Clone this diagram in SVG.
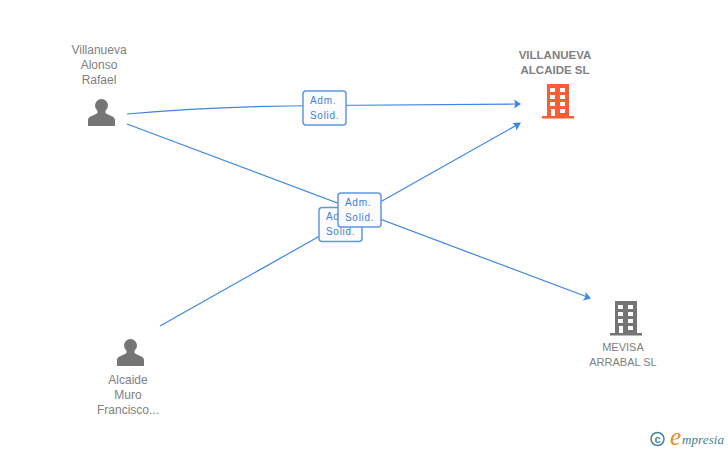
<svg xmlns="http://www.w3.org/2000/svg" width="728" height="450" viewBox="0 0 728 450">
<style>
.e{fill:none;stroke:#3d85e6;stroke-width:1.2}
.a{fill:#3d85e6}
.t{font-family:"Liberation Sans",Arial,sans-serif;font-size:12px;fill:#808080;text-anchor:middle}
.b{font-weight:bold;font-size:11.500px}
.c{font-size:11px}
.box{fill:#fcfcfe;stroke:#5f97e4;stroke-width:1.5}
.l{font-family:"Liberation Sans",Arial,sans-serif;font-size:10px;fill:#3d7fdc;letter-spacing:.7px}
.p{fill:#757575}
.w{fill:#fff}
</style>
<defs>
<g id="person"><circle cx="0" cy="6.500" r="6.500"/><path d="M-4 10 L-4 14 C-8 17 -13.500 17 -13.500 21 L-13.500 27 L13.500 27 L13.500 21 C13.500 17 8 17 4 14 L4 10Z"/></g>
<g id="bld"><path d="M-11 0H11V32H16V34.500H-16V32H-11Z"/>
<g class="w"><rect x="-8" y="4" width="5" height="4"/><rect x="2" y="4" width="5" height="4"/><rect x="-8" y="11" width="5" height="4"/><rect x="2" y="11" width="5" height="4"/><rect x="-8" y="18" width="5" height="4"/><rect x="2" y="18" width="5" height="4"/><rect x="-7" y="25" width="4" height="7"/><rect x="2" y="25" width="5" height="4"/></g></g>
</defs>
<rect width="728" height="450" fill="#fff"/>
<g id="connectors">
<path class="e" d="M127 114 Q220 106 324 105.500 T516 104"/>
<path class="a" d="M521 104 L514 99.500 L515.500 104 L514 108.500Z"/>
<path class="e" d="M127 124 L586 296.500"/>
<path class="a" d="M591 298.500 L585.500 292 L585.500 297 L582.500 300.500Z"/>
<path class="e" d="M160 326 L516 125.500"/>
<path class="a" d="M521 122.500 L512.500 123 L515.500 126 L516.500 130.500Z"/>
</g>
<g id="n1"><use href="#person" class="p" x="101.500" y="99"/><text class="t" x="99" y="54">Villanueva</text><text class="t" x="99" y="69">Alonso</text><text class="t" x="99" y="84">Rafael</text></g>
<g id="n2"><use href="#person" class="p" x="130.500" y="339"/><text class="t" x="128" y="384">Alcaide</text><text class="t" x="128" y="399">Muro</text><text class="t" x="128" y="414">Francisco...</text></g>
<g id="n3"><use href="#bld" fill="#ff5c33" x="558" y="84"/><text class="t b" x="555" y="59">VILLANUEVA</text><text class="t b" x="555" y="74">ALCAIDE SL</text></g>
<g id="n4"><use href="#bld" fill="#757575" x="626" y="301"/><text class="t c" x="623" y="351">MEVISA</text><text class="t c" x="623" y="366">ARRABAL SL</text></g>
<g id="l1"><rect class="box" x="303" y="91" width="43" height="34" rx="3"/><text class="l" x="310" y="104">Adm.</text><text class="l" x="310" y="119">Solid.</text></g>
<g id="l3"><rect class="box" x="319" y="207.500" width="43" height="34" rx="3"/><text class="l" x="326" y="220">Adm.</text><text class="l" x="326" y="235">Solid.</text></g>
<g id="l2"><rect class="box" x="338" y="193" width="43" height="34" rx="3"/><text class="l" x="345" y="206">Adm.</text><text class="l" x="345" y="221">Solid.</text></g>
<g id="logo"><circle cx="657.500" cy="439" r="6.500" fill="none" stroke="#4a8299" stroke-width="1.500"/><text x="657.500" y="443" font-family="Liberation Sans,sans-serif" font-size="11" font-weight="bold" fill="#4a8299" text-anchor="middle">c</text><text x="670" y="445" font-family="Liberation Serif,serif" font-style="italic" font-size="25" fill="#f08a24">e</text><text x="682" y="444" font-family="Liberation Serif,serif" font-style="italic" font-size="13" fill="#3f7f96" letter-spacing=".1">mpresia</text></g>
</svg>
